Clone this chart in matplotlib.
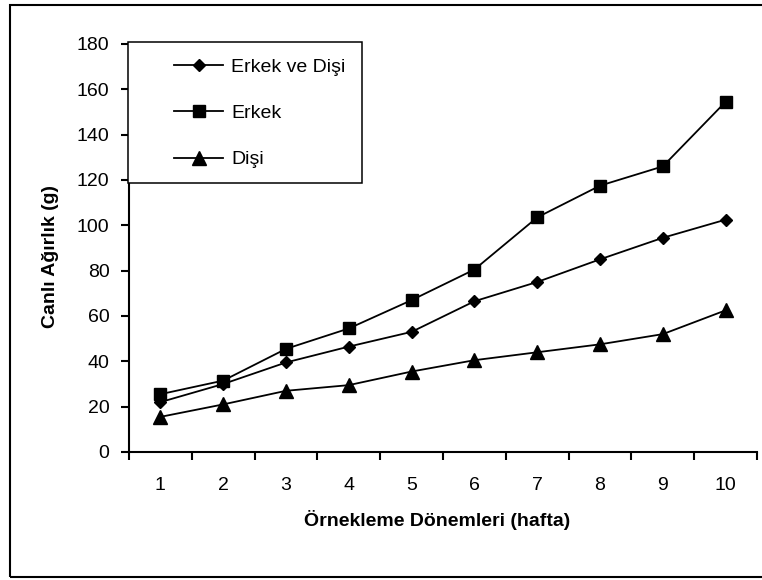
import matplotlib
matplotlib.use("Agg")
import matplotlib.pyplot as plt
from matplotlib.patches import Rectangle
import numpy as np

plt.rcParams['font.family'] = ['Liberation Sans', 'DejaVu Sans']

weeks = ["1", "2", "3", "4", "5", "6", "7", "8", "9", "10"]
erkek_ve_disi = [22, 30, 39.5, 46.5, 53, 66.5, 75, 85, 94.5, 102.5]
erkek = [25.5, 31.5, 45.5, 54.5, 67, 80.5, 103.5, 117.5, 126, 154.5]
disi = [15.5, 21, 27, 29.5, 35.5, 40.5, 44, 47.5, 52, 62.5]

W, H = 762, 580
fig = plt.figure(figsize=(W / 100, H / 100), dpi=100)

# axes placed in pixel terms of the original picture
left, right, top, bottom = 129, 757, 44, 452
ax = fig.add_axes([left / W, (H - bottom) / H, (right - left) / W, (bottom - top) / H])

x = np.arange(len(weeks)) + 0.5
ax.plot(x, erkek_ve_disi, color='black', lw=1.3, marker='D', ms=6.3, label='Erkek ve Dişi')
ax.plot(x, erkek, color='black', lw=1.3, marker='s', ms=8.3, label='Erkek')
ax.plot(x, disi, color='black', lw=1.3, marker='^', ms=9.5, label='Dişi')

ax.set_xlim(0, len(weeks))
ax.set_ylim(0, 180)
ax.set_yticks(np.arange(0, 181, 20))
ax.set_xticks(np.arange(0, len(weeks) + 1))
ax.set_xticklabels([])
ax.set_xticks(x, minor=True)
ax.set_xticklabels(weeks, minor=True)
ax.tick_params(axis='x', which='major', length=6, width=1.5, direction='out')
ax.tick_params(axis='x', which='minor', length=0, pad=18, labelsize=14)
ax.tick_params(axis='y', length=6, width=1.5, direction='out', pad=8, labelsize=14)

for s in ['top', 'right']:
    ax.spines[s].set_visible(False)
for s in ['left', 'bottom']:
    ax.spines[s].set_linewidth(1.5)

ax.set_xlabel('Örnekleme Dönemleri (hafta)', fontsize=14, fontweight='bold')
ax.xaxis.set_label_coords(0.49, -0.143)
ax.set_ylabel('Canlı Ağırlık (g)', fontsize=14, fontweight='bold')
ax.yaxis.set_label_coords(-0.112, 0.48)

# legend box
lx0, lx1, ly0, ly1 = 128, 362, 42, 183
ax.add_patch(Rectangle(((lx0 - left) / (right - left), (bottom - ly1) / (bottom - top)),
                       (lx1 - lx0) / (right - left), (ly1 - ly0) / (bottom - top),
                       transform=ax.transAxes, fill=True, facecolor='white',
                       edgecolor='black', lw=1.1, clip_on=False, zorder=5))
leg = ax.legend(loc='upper left', bbox_to_anchor=((174 - left) / (right - left), (bottom - 58.5) / (bottom - top)),
                frameon=False, fontsize=14, borderpad=0, borderaxespad=0,
                handlelength=2.52, handletextpad=0.42, labelspacing=1.47)
leg.set_zorder(6)

# outer border
fig.patches.append(Rectangle((10 / W, 3 / H), 1.0, (H - 8) / H, transform=fig.transFigure,
                             fill=False, edgecolor='black', lw=1.5))

fig.savefig('out.png', dpi=100)
